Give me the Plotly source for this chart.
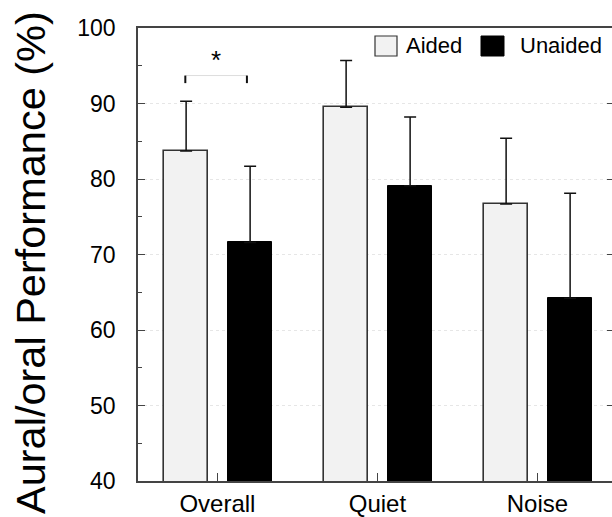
import plotly.graph_objects as go

categories = ["Overall", "Quiet", "Noise"]
aided_mean = [83.7, 89.5, 76.7]
aided_sd = [6.6, 6.2, 8.7]
unaided_mean = [71.6, 79.1, 64.2]
unaided_sd = [10.1, 9.1, 13.9]
y_ticks = [40, 50, 60, 70, 80, 90, 100]
sig_pair_y = [93.7, 92.7]  # bracket top / tick bottom (Overall)

xpos = list(range(len(categories)))
W = 612
H = 517
ml, mr, mt, mb = 138, 0, 28, 36
pw = W - ml - mr
ph = H - mt - mb

fig = go.Figure()
fig.add_trace(go.Bar(
    x=xpos, y=aided_mean, name="Aided",
    width=0.277, offset=-0.334,
    marker=dict(color="#f2f2f2", line=dict(color="#333333", width=1.6)),
    error_y=dict(type="data", symmetric=False, array=aided_sd,
                 arrayminus=[0] * len(aided_sd), color="#111111",
                 thickness=1.5, width=6),
    showlegend=False,
))
fig.add_trace(go.Bar(
    x=xpos, y=unaided_mean, name="Unaided",
    width=0.277, offset=0.066,
    marker=dict(color="#000000", line=dict(color="#000000", width=1)),
    error_y=dict(type="data", symmetric=False, array=unaided_sd,
                 arrayminus=[0] * len(unaided_sd), color="#111111",
                 thickness=1.5, width=6),
    showlegend=False,
))
# invisible trace to carry the right-hand tick axis
fig.add_trace(go.Scatter(x=[xpos[0]], y=[y_ticks[0]], yaxis="y2",
                         mode="markers", marker=dict(opacity=0),
                         hoverinfo="skip", showlegend=False))

# significance bracket (between the two Overall bars)
xa = xpos[0] - 0.334 + 0.277 / 2 - 0.005
xb = xpos[0] + 0.066 + 0.277 / 2 - 0.02
fig.add_shape(type="line", x0=xa, x1=xb, y0=sig_pair_y[0], y1=sig_pair_y[0],
              xref="x", yref="y", line=dict(color="#dddddd", width=1))
for xx in (xa, xb):
    fig.add_shape(type="line", x0=xx, x1=xx, y0=sig_pair_y[0], y1=sig_pair_y[1],
                  xref="x", yref="y", line=dict(color="#111111", width=2))
fig.add_annotation(x=(xa + xb) / 2, y=95.8, xref="x", yref="y", text="*",
                   showarrow=False, font=dict(size=26, color="#000000",
                                              family="Liberation Sans"))

# legend (custom)
def px_x(p):
    return (p - ml) / pw

def px_y(p):
    return 1 - (p - mt) / ph

fig.add_shape(type="rect", xref="paper", yref="paper",
              x0=px_x(375), x1=px_x(397), y0=px_y(56), y1=px_y(36),
              fillcolor="#f2f2f2", line=dict(color="#333333", width=1.2))
fig.add_annotation(xref="paper", yref="paper", x=px_x(404), y=px_y(46),
                   xanchor="left", yanchor="middle", text="Aided",
                   showarrow=False, font=dict(size=22, color="#000000"))
fig.add_shape(type="rect", xref="paper", yref="paper",
              x0=px_x(481), x1=px_x(504), y0=px_y(56), y1=px_y(36),
              fillcolor="#000000", line=dict(color="#000000", width=1))
fig.add_annotation(xref="paper", yref="paper", x=px_x(518), y=px_y(46),
                   xanchor="left", yanchor="middle", text="Unaided",
                   showarrow=False, font=dict(size=22, color="#000000"))

# y-axis title
fig.add_annotation(xref="paper", yref="paper", x=px_x(30), y=px_y(263),
                   xanchor="center", yanchor="middle", textangle=-90,
                   text="Aural/oral Performance (%)", showarrow=False,
                   font=dict(size=41.5, color="#000000"))

x_lo = -(217.7 - 138.3) / 160
x_hi = x_lo + pw / 160

fig.update_layout(
    width=W, height=H,
    margin=dict(l=ml, r=mr, t=mt, b=mb, pad=0, autoexpand=False),
    paper_bgcolor="white", plot_bgcolor="white",
    font=dict(family="Liberation Sans, Arial, sans-serif", color="#000000"),
    xaxis=dict(
        range=[x_lo, x_hi], tickvals=xpos, ticktext=categories,
        ticks="inside", ticklen=8, tickwidth=1.2, tickcolor="#444444",
        showline=True, linecolor="#444444", linewidth=1.6, mirror=True,
        showgrid=False, zeroline=False, automargin=False,
        tickfont=dict(size=24), ticklabelstandoff=0,
    ),
    yaxis=dict(
        range=[y_ticks[0], y_ticks[-1]], tickvals=y_ticks,
        ticks="inside", ticklen=7, tickwidth=1.2, tickcolor="#444444",
        showline=True, linecolor="#444444", linewidth=1.6, mirror=False,
        showgrid=True, gridcolor="#e6e6e6", griddash="dot", gridwidth=1,
        zeroline=False, tickfont=dict(size=23), ticklabelstandoff=16,
        automargin=False,
        minor=dict(dtick=5, ticks="inside", ticklen=4, tickcolor="#444444",
                   showgrid=False),
    ),
    yaxis2=dict(
        overlaying="y", side="right", anchor="x",
        range=[y_ticks[0], y_ticks[-1]], tickvals=y_ticks[1:-1],
        ticks="inside", ticklen=5, tickwidth=1.2, tickcolor="#444444",
        showticklabels=False, showgrid=False, showline=False, zeroline=False,
    ),
    bargap=0, barmode="overlay",
)

fig.write_html("out.html", config={"displayModeBar": False},
               post_script="document.body.style.margin='0px';")
